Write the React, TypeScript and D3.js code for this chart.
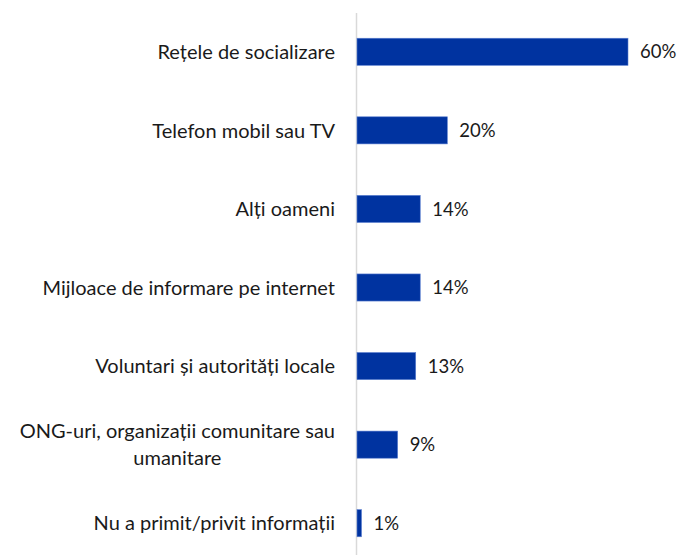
import { useEffect, useRef } from 'react';
import * as d3 from 'd3';

const categories = [
  'Rețele de socializare',
  'Telefon mobil sau TV',
  'Alți oameni',
  'Mijloace de informare pe internet',
  'Voluntari și autorități locale',
  'ONG-uri, organizații comunitare sau|umanitare',
  'Nu a primit/privit informații',
];
const values = [60, 20, 14, 14, 13, 9, 1];
const valueLabels = ['60%', '20%', '14%', '14%', '13%', '9%', '1%'];

const WIDTH = 690;
const HEIGHT = 555;

const App = () => {
  const chartRef = useRef<SVGSVGElement | null>(null);

  useEffect(() => {
    if (!chartRef.current) return;
    const svg = d3.select(chartRef.current);
    svg.selectAll('*').remove();

    const axisX = 356.5;
    const font = 'Lato, "Open Sans", sans-serif';

    const x = d3.scaleLinear().domain([0, 60]).range([axisX + 0.5, 628]);
    const y = d3.scaleBand<string>()
      .domain(categories)
      .range([12.5, 562.5])
      .paddingInner(0.655)
      .paddingOuter(0.3275);

    // axis line
    svg.append('line')
      .attr('x1', axisX).attr('x2', axisX)
      .attr('y1', 13).attr('y2', HEIGHT)
      .attr('stroke', '#d9d9d9')
      .attr('stroke-width', 1.5);

    // bars
    svg.selectAll('rect.bar')
      .data(values)
      .enter()
      .append('rect')
      .attr('class', 'bar')
      .attr('x', x(0))
      .attr('y', (_, i) => y(categories[i]) as number)
      .attr('width', d => x(d) - x(0))
      .attr('height', y.bandwidth())
      .attr('fill', '#0033a0')
      .attr('stroke', '#5b7fd0')
      .attr('stroke-width', 0.6);

    // value labels
    svg.selectAll('text.val')
      .data(values)
      .enter()
      .append('text')
      .attr('class', 'val')
      .attr('x', d => x(d) + 12)
      .attr('y', (_, i) => (y(categories[i]) as number) + y.bandwidth() / 2)
      .attr('dy', '0.36em')
      .attr('font-family', font)
      .attr('font-size', 18.5)
      .attr('fill', '#1a1a1a')
      .text((_, i) => valueLabels[i]);

    // category labels
    const labelRight = 335;
    categories.forEach(c => {
      const lines = c.split('|');
      const cy = (y(c) as number) + y.bandwidth() / 2;
      const lh = 27;
      const g = svg.append('g');
      const texts = lines.map((line, j) =>
        g.append('text')
          .attr('y', cy + (j - (lines.length - 1) / 2) * lh)
          .attr('dy', '0.36em')
          .attr('font-family', font)
          .attr('font-size', 20)
          .attr('fill', '#1a1a1a')
          .text(line)
      );
      const widths = texts.map(t => (t.node() as SVGTextElement).getComputedTextLength());
      const maxW = Math.max(...widths);
      const center = labelRight - maxW / 2;
      texts.forEach(t => t.attr('x', center).attr('text-anchor', 'middle'));
    });
  }, []);

  return (
    <svg
      ref={chartRef}
      width={WIDTH}
      height={HEIGHT}
      style={{ position: 'absolute', left: 0, top: 0, background: '#fff' }}
    ></svg>
  );
};

export default App;
